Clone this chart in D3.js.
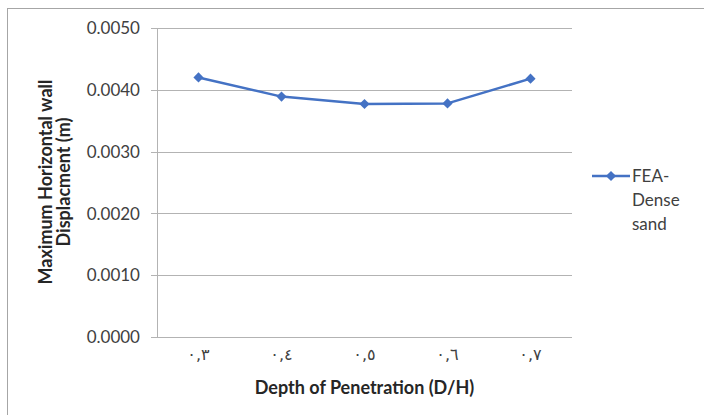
<!DOCTYPE html>
<html>
<head>
<meta charset="utf-8">
<script src="https://cdn.jsdelivr.net/npm/d3@7"></script>
<style>
  body { margin: 0; background: #fff; }
  svg { display: block; font-family: Lato, "Open Sans", sans-serif; }
</style>
</head>
<body>
<div id="chart"></div>
<script>
// chart data
let categories = ['٠,٣', '٠,٤', '٠,٥', '٠,٦', '٠,٧'];
let values = [0.00420, 0.00389, 0.00377, 0.00378, 0.00418];
let yTicks = [0, 0.001, 0.002, 0.003, 0.004, 0.005];
let seriesName = ['FEA-', 'Dense', 'sand'];

let width = 704, height = 415;
let plot = {left: 157, right: 572, top: 28, bottom: 337};
let blue = '#4472c4';

let svg = d3.select('#chart').append('svg')
    .attr('width', width)
    .attr('height', height);

// outer chart border (right and bottom sides fall outside the picture)
svg.append('rect')
    .attr('x', 7.5).attr('y', 8.5)
    .attr('width', 710).attr('height', 420)
    .attr('fill', 'none')
    .attr('stroke', '#a6a6a6');

let x = d3.scalePoint()
    .domain(categories)
    .range([plot.left, plot.right])
    .padding(0.5);

let y = d3.scaleLinear()
    .domain([0, 0.005])
    .range([plot.bottom, plot.top]);

// gridlines + tick marks
svg.append('g')
    .selectAll('line')
    .data(yTicks)
    .join('line')
    .attr('x1', plot.left - 6)
    .attr('x2', plot.right)
    .attr('y1', d => Math.round(y(d)) + 0.5)
    .attr('y2', d => Math.round(y(d)) + 0.5)
    .attr('stroke', '#b3b3b3')
    .attr('stroke-width', 1);

// y axis line
svg.append('line')
    .attr('x1', plot.left + 0.5).attr('x2', plot.left + 0.5)
    .attr('y1', plot.top).attr('y2', plot.bottom)
    .attr('stroke', '#b3b3b3');

// y tick labels
svg.append('g')
    .selectAll('text')
    .data(yTicks)
    .join('text')
    .attr('x', 140)
    .attr('y', d => y(d))
    .attr('dy', '0.36em')
    .attr('text-anchor', 'end')
    .attr('font-size', 17)
    .attr('fill', '#404040')
    .text(d => d3.format('.4f')(d));

// x tick labels
svg.append('g')
    .selectAll('text')
    .data(categories)
    .join('text')
    .attr('x', d => x(d))
    .attr('y', 360)
    .attr('text-anchor', 'middle')
    .attr('font-size', 16)
    .attr('fill', '#404040')
    .style('font-family', '"DejaVu Sans", sans-serif')
    .text(d => d);

// axis titles
svg.append('text')
    .attr('x', (plot.left + plot.right) / 2)
    .attr('y', 394)
    .attr('text-anchor', 'middle')
    .attr('font-size', 18)
    .attr('font-weight', 'bold')
    .attr('fill', '#262626')
    .text('Depth of Penetration (D/H)');

let ytitle = svg.append('text')
    .attr('transform', 'translate(52,182) rotate(-90)')
    .attr('text-anchor', 'middle')
    .attr('font-size', 18)
    .attr('font-weight', 'bold')
    .attr('fill', '#262626');
ytitle.append('tspan').attr('x', 0).attr('y', 0).text('Maximum Horizontal wall');
ytitle.append('tspan').attr('x', 0).attr('y', 18).text('Displacment (m)');

// series line
let line = d3.line()
    .x((d, i) => x(categories[i]))
    .y(d => y(d));

svg.append('path')
    .datum(values)
    .attr('d', line)
    .attr('fill', 'none')
    .attr('stroke', blue)
    .attr('stroke-width', 2.5)
    .attr('stroke-linejoin', 'round');

let diamond = d3.symbol().type(d3.symbolDiamond2).size(66);

svg.append('g')
    .selectAll('path')
    .data(values)
    .join('path')
    .attr('transform', (d, i) => `translate(${x(categories[i])},${y(d)})`)
    .attr('d', diamond)
    .attr('fill', blue);

// legend
let legend = svg.append('g');
legend.append('line')
    .attr('x1', 592).attr('x2', 630)
    .attr('y1', 176).attr('y2', 176)
    .attr('stroke', blue)
    .attr('stroke-width', 2.5);
legend.append('path')
    .attr('transform', 'translate(611,176)')
    .attr('d', diamond)
    .attr('fill', blue);
legend.selectAll('text')
    .data(seriesName)
    .join('text')
    .attr('x', 632)
    .attr('y', (d, i) => 182 + i * 24)
    .attr('font-size', 17)
    .attr('fill', '#404040')
    .text(d => d);
</script>
</body>
</html>
